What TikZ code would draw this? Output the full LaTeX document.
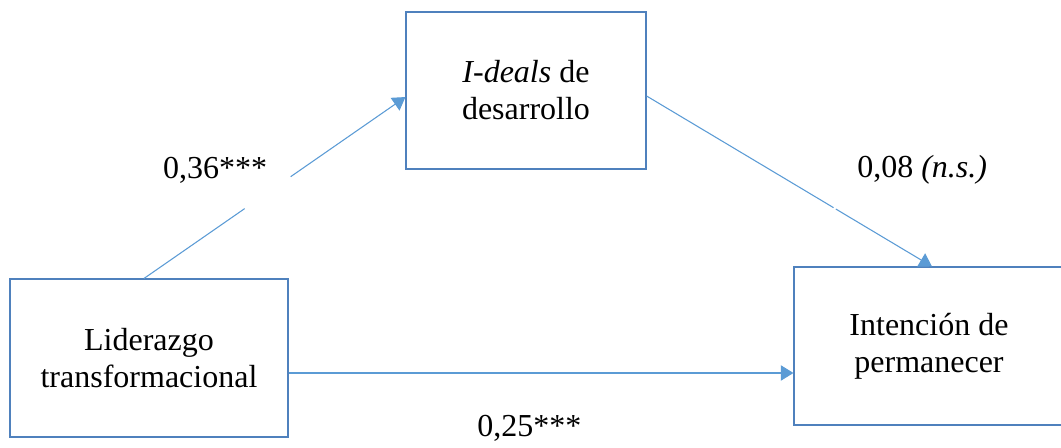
\documentclass[tikz,border=0pt]{standalone}
\usepackage{fontspec}
\setmainfont{Liberation Serif}
\usetikzlibrary{arrows.meta,calc}
\definecolor{boxc}{HTML}{4F81BD}
\definecolor{linec}{HTML}{5B9BD5}
\begin{document}
\begin{tikzpicture}[x=0.75pt,y=-0.75pt,
  box/.style={draw=boxc,line width=0.8pt,align=center,inner sep=0pt,font=\fontsize{24}{27.75}\selectfont},
  conn/.style={draw=linec,line width=0.8pt},
  tipped/.style={-{Triangle[length=9.5pt,width=11.5pt]}},
  lab/.style={font=\fontsize{24}{27.75}\selectfont,inner sep=0pt}]
\useasboundingbox (0,0) rectangle (1061,448);
\node[box,minimum width=180pt,minimum height=117.75pt] (T) at (526,90.5) {\textit{I-deals} de\\desarrollo};
\node[box,minimum width=208.5pt,minimum height=118.5pt] (L) at (149,358) {Liderazgo\\transformacional};
\node[box,minimum width=202.5pt,minimum height=118.5pt] (R) at (929,346) {Intención de\\permanecer};
% connector L -> T (with gap)
\coordinate (a1) at ([xshift=-3.75pt]L.north);
\coordinate (b1) at ([yshift=-4.9pt]T.west);
\coordinate (g1) at ($(a1)!0.385!(b1)$);
\coordinate (g2) at ($(a1)!0.561!(b1)$);
\draw[conn] (a1) -- (g1);
\draw[conn,tipped] (g2) -- (b1);
% connector T -> R (tiny gap)
\coordinate (a2) at ([yshift=-4.1pt]T.east);
\coordinate (b2) at ([xshift=2.25pt]R.north);
\coordinate (g3) at ($(a2)!0.655!(b2)$);
\coordinate (g4) at ($(a2)!0.663!(b2)$);
\draw[conn] (a2) -- (g3);
\draw[conn,tipped] (g4) -- (b2);
% connector L -> R
\coordinate (a3) at ([yshift=-11.25pt]L.east);
\draw[conn,tipped] (a3) -- (a3 -| R.west);
% labels
\node[lab,anchor=base] (l1) at (215,179) {0,36***};
\node[lab,anchor=base west] (l2) at (857,178) {0,08 \textit{(n.s.)}};
\node[lab,anchor=base west] (l3) at (477,437) {0,25***};
\end{tikzpicture}
\end{document}
